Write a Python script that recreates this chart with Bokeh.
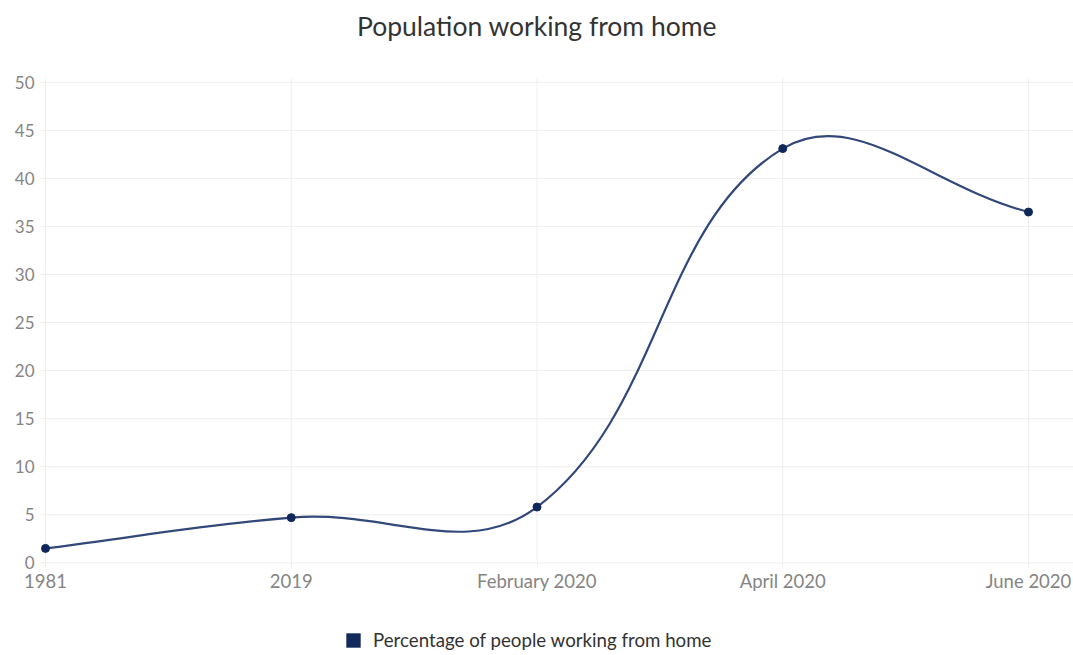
import math
from bokeh.plotting import figure
from bokeh.models import Range1d, FixedTicker, Legend, LegendItem, Label
from bokeh.embed import file_html
from bokeh.resources import INLINE

# ---- data ----
title_text = "Population working from home"
series_name = "Percentage of people working from home"
categories = ["1981", "2019", "February 2020", "April 2020", "June 2020"]
values = [1.5, 4.7, 5.8, 43.1, 36.5]
y_ticks = [0, 5, 10, 15, 20, 25, 30, 35, 40, 45, 50]

# ---- layout (canvas pixels) ----
W, H = 1073, 655
X0_PX = 45.0        # where the first category sits
Y0_PX = 562.3       # where value 0 sits
PX_PER_CAT = 245.75
PX_PER_UNIT = 9.61
TOP_PX = 78.0       # top of the grid
TITLE_X_PX, TITLE_Y_PX = 536.5, 25.0

def dx(px):
    return (px - X0_PX) / PX_PER_CAT

def dy(py):
    return (Y0_PX - py) / PX_PER_UNIT

X_START, X_END = dx(0), dx(W)
Y_START, Y_END = dy(H), dy(0)
GRID_TOP = dy(TOP_PX)
sx, sy = PX_PER_CAT, PX_PER_UNIT

LINE_COLOR = "#33487a"
POINT_COLOR = "#0f2859"
GRID = "#eeeeee"
TICK_TXT = "#858585"
FONT = "Lato"

p = figure(width=W, height=H, output_backend="svg", toolbar_location=None,
           x_range=Range1d(X_START, X_END), y_range=Range1d(Y_START, Y_END),
           min_border_left=0, min_border_right=0, min_border_top=0,
           min_border_bottom=0)
p.outline_line_color = None
p.background_fill_color = "white"
p.border_fill_color = "white"

# axes drawn at the zero lines, inside the plot area
xs = list(range(len(categories)))
p.xaxis.ticker = FixedTicker(ticks=xs)
p.xaxis.major_label_overrides = {i: c for i, c in enumerate(categories)}
p.xaxis.fixed_location = 0
p.yaxis.ticker = FixedTicker(ticks=y_ticks)
p.yaxis.fixed_location = 0
for ax in (p.xaxis[0], p.yaxis[0]):
    ax.axis_line_color = None
    ax.major_tick_line_color = GRID
    ax.major_tick_in = 0
    ax.major_tick_out = 5
    ax.minor_tick_line_color = None
    ax.major_label_text_font = FONT
    ax.major_label_text_color = TICK_TXT
p.xaxis.major_label_text_font_size = "18.5px"
p.yaxis.major_label_text_font_size = "17px"
p.xaxis.major_label_standoff = 2
p.yaxis.major_label_standoff = 6

p.xgrid.visible = False
p.ygrid.visible = False
# grid lines
p.segment(x0=xs, y0=[0] * len(xs), x1=xs, y1=[GRID_TOP] * len(xs),
          line_color=GRID, line_width=1, level="underlay")
p.segment(x0=[0] * len(y_ticks), y0=y_ticks, x1=[X_END] * len(y_ticks), y1=y_ticks,
          line_color=GRID, line_width=1, level="underlay")

# title
p.add_layout(Label(x=dx(TITLE_X_PX), y=dy(TITLE_Y_PX), text=title_text,
                   text_align="center", text_baseline="middle",
                   text_font=FONT, text_font_size="26.5px", text_color="#333333"))

# smooth curve (cubic bezier through the points, tension 0.4)
n = len(values)
T = 0.4
prev_ctrl, next_ctrl = [], []
for i in range(n):
    a, c = max(i - 1, 0), min(i + 1, n - 1)
    x0, y0 = xs[a], values[a]
    x1, y1 = xs[i], values[i]
    x2, y2 = xs[c], values[c]
    d01 = math.hypot((x1 - x0) * sx, (y1 - y0) * sy)
    d12 = math.hypot((x2 - x1) * sx, (y2 - y1) * sy)
    tot = d01 + d12
    fa = T * (d01 / tot if tot else 0)
    fb = T * (d12 / tot if tot else 0)
    prev_ctrl.append((x1 - fa * (x2 - x0), y1 - fa * (y2 - y0)))
    next_ctrl.append((x1 + fb * (x2 - x0), y1 + fb * (y2 - y0)))

p.bezier(x0=xs[:-1], y0=values[:-1], x1=xs[1:], y1=values[1:],
         cx0=[next_ctrl[i][0] for i in range(n - 1)],
         cy0=[next_ctrl[i][1] for i in range(n - 1)],
         cx1=[prev_ctrl[i + 1][0] for i in range(n - 1)],
         cy1=[prev_ctrl[i + 1][1] for i in range(n - 1)],
         line_color=LINE_COLOR, line_width=2.2)
p.scatter(xs, values, size=8, fill_color=POINT_COLOR, line_color=POINT_COLOR)

# legend swatch (zero-size boxes on the data points, only shown in the legend)
swatch = p.quad(left=xs, right=xs, top=values, bottom=values,
                fill_color="#122a5b", line_color=None)
legend = Legend(items=[LegendItem(label=series_name, renderers=[swatch])],
                orientation="horizontal", location=(344, 4),
                glyph_width=18, glyph_height=18, label_standoff=11,
                label_text_font=FONT, label_text_font_size="18.7px",
                label_text_color="#333333", border_line_color=None,
                background_fill_alpha=0, padding=0, margin=0, spacing=0)
p.add_layout(legend, "center")

open("out.html", "w").write(file_html(p, INLINE))
